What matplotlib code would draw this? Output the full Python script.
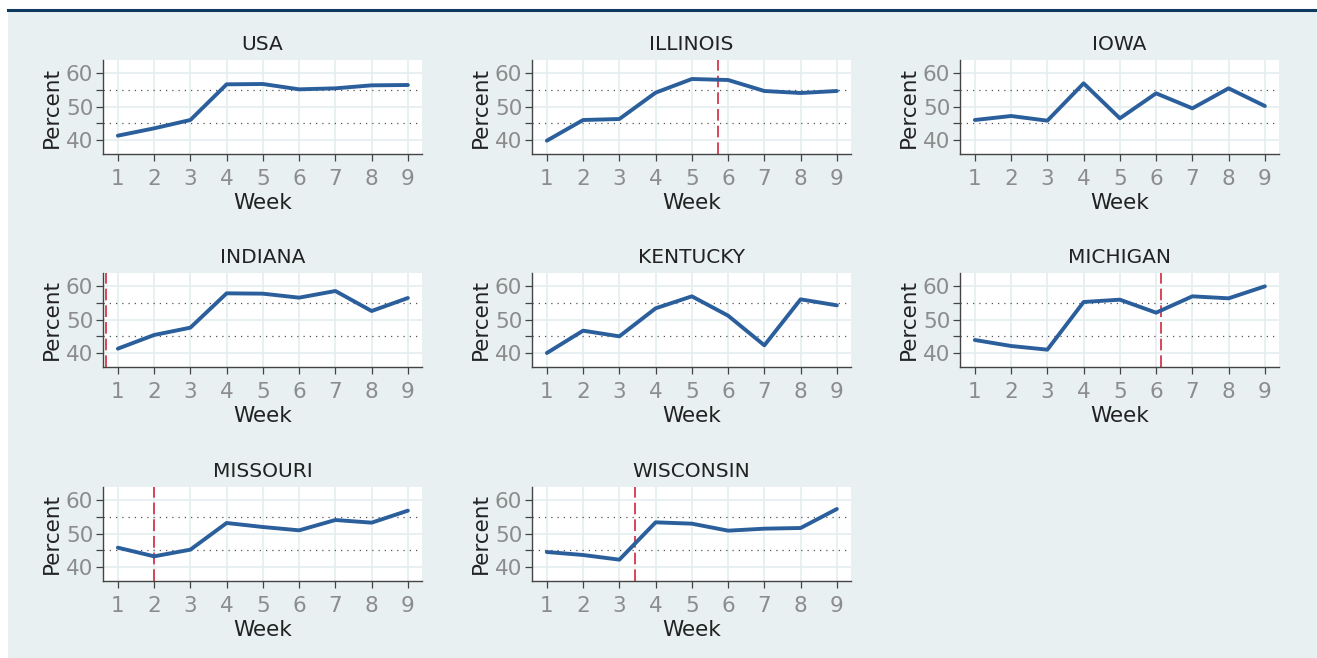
import matplotlib
matplotlib.use("Agg")
import matplotlib.pyplot as plt
import numpy as np

weeks = [1, 2, 3, 4, 5, 6, 7, 8, 9]
titles = ["USA", "ILLINOIS", "IOWA", "INDIANA", "KENTUCKY", "MICHIGAN", "MISSOURI", "WISCONSIN"]
usa = [41.3, 43.5, 46.0, 56.7, 56.8, 55.2, 55.5, 56.4, 56.5]
illinois = [39.8, 46.0, 46.3, 54.2, 58.3, 58.0, 54.7, 54.1, 54.7]
iowa = [46.0, 47.2, 45.8, 57.0, 46.5, 54.0, 49.5, 55.5, 50.2]
indiana = [41.3, 45.4, 47.6, 57.9, 57.8, 56.6, 58.6, 52.6, 56.5]
kentucky = [40.0, 46.7, 45.0, 53.4, 57.0, 51.2, 42.3, 56.1, 54.3]
michigan = [43.9, 42.1, 41.0, 55.3, 56.0, 52.1, 57.0, 56.4, 60.0]
missouri = [45.8, 43.2, 45.2, 53.2, 52.0, 51.0, 54.1, 53.3, 56.9]
wisconsin = [44.5, 43.6, 42.2, 53.4, 53.0, 50.9, 51.5, 51.7, 57.4]
series = [usa, illinois, iowa, indiana, kentucky, michigan, missouri, wisconsin]
# policy week markers (None = no marker)
policy_week = [None, 5.72, None, 0.67, None, 6.13, 2.0, 3.43]

plt.rcParams['font.family'] = ['DejaVu Sans']

W, H = 1317, 658
fig = plt.figure(figsize=(W / 100, H / 100), dpi=100)
fig.patch.set_facecolor("white")
bg = plt.Rectangle((8 / W, 0), 1 - 8 / W, 1 - 12 / H, transform=fig.transFigure,
                   facecolor="#e8f0f2", edgecolor="none", zorder=-10)
fig.patches.append(bg)
fig.add_artist(plt.Line2D([8 / W, 1], [1 - 10 / H, 1 - 10 / H], transform=fig.transFigure,
                          color="#0f3a5f", lw=2.2))

col_left = [103, 532, 960]
row_top = [60, 273, 487]
aw, ah = 319, 94

line_col = "#2b5f9c"
red = "#d0283e"

for i, (title, vals) in enumerate(zip(titles, series)):
    r, c = divmod(i, 3)
    left = col_left[c] / W
    bottom = 1 - (row_top[r] + ah) / H
    ax = fig.add_axes([left, bottom, aw / W, ah / H])
    ax.set_facecolor("white")
    ax.set_xlim(0.59, 9.39)
    ax.set_ylim(35.8, 64.0)
    ax.set_xticks(weeks)
    ax.set_yticks([40, 50, 60])
    ax.set_yticks([45, 55], minor=True)
    for x in weeks:
        ax.axvline(x, color="#e4edf0", lw=1.2, zorder=0)
    for y in [40, 50, 60]:
        ax.axhline(y, color="#e4edf0", lw=1.2, zorder=0)
    for y in [45, 55]:
        ax.axhline(y, color="#555555", lw=0.9, ls=(0, (1, 4)), zorder=1)
    ax.plot(weeks, vals, color=line_col, lw=2.8, zorder=3, solid_capstyle="round")
    pw = policy_week[i]
    if pw is not None:
        ax.axvline(pw, color=red, lw=1.2, ls=(0, (7, 3)), zorder=2)
    for s in ["top", "right"]:
        ax.spines[s].set_visible(False)
    for s in ["left", "bottom"]:
        ax.spines[s].set_color("#444444")
        ax.spines[s].set_linewidth(1.0)
    ax.tick_params(axis="both", which="both", direction="out", length=5, width=0.9,
                   color="#444444", labelcolor="#8c8c8c", labelsize=15.5)
    ax.tick_params(axis="x", pad=6)
    ax.tick_params(axis="y", pad=2)
    ax.set_title(title, fontsize=14.5, color="#222222", pad=7)
    ax.set_xlabel("Week", fontsize=15.5, color="#222222", labelpad=3)
    ax.set_ylabel("Percent", fontsize=15.5, color="#222222", labelpad=3)

fig.savefig("out.png", dpi=100, facecolor=fig.get_facecolor())
